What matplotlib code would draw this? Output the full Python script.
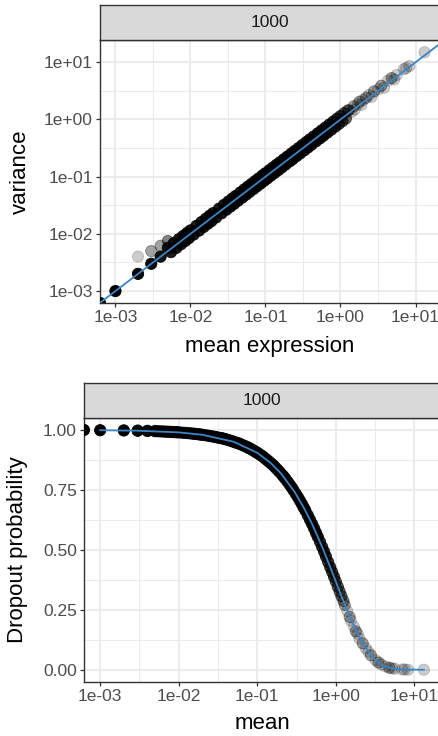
import numpy as np
import matplotlib
matplotlib.use("Agg")
import matplotlib.pyplot as plt
from matplotlib.ticker import FixedLocator, NullFormatter

plt.rcParams['font.family'] = ['Liberation Sans', 'DejaVu Sans']

# ---------------- data ----------------
facet_label = "1000"

gene_mean = [0.0, 0.001, 0.002, 0.002, 0.003, 0.003, 0.004, 0.004, 0.005,
             0.005, 0.0055, 0.006, 0.0065, 0.007, 0.0075, 0.008, 0.0085, 0.009, 0.0095,
             0.010, 0.011, 0.012, 0.013, 0.014, 0.015, 0.016, 0.017, 0.018, 0.019,
             0.020, 0.022, 0.024, 0.026, 0.028, 0.030, 0.032, 0.034, 0.036, 0.038,
             0.040, 0.043, 0.046, 0.049, 0.052, 0.055, 0.058, 0.061, 0.065, 0.069,
             0.073, 0.077, 0.081, 0.086, 0.091, 0.096, 0.100, 0.106, 0.112, 0.118,
             0.125, 0.132, 0.140, 0.148, 0.156, 0.165, 0.175, 0.185, 0.195, 0.210,
             0.220, 0.230, 0.245, 0.260, 0.275, 0.290, 0.310, 0.330, 0.350, 0.370,
             0.390, 0.410, 0.440, 0.470, 0.500, 0.530, 0.560, 0.590, 0.630, 0.670,
             0.710, 0.750, 0.800, 0.850, 0.900, 0.950, 1.000, 1.060, 1.120, 1.180,
             1.250, 1.30, 1.40, 1.50, 1.55, 1.70, 1.80, 1.90, 2.00, 2.20,
             2.40, 2.60, 2.80, 3.20, 3.50, 3.80, 4.30, 4.80, 5.20, 5.60,
             7.00, 7.50, 8.30, 13.2]

gene_variance = [0.0, 0.001, 0.002, 0.004, 0.003, 0.005, 0.004, 0.0062, 0.0075,
                 0.0057, 0.0048, 0.0069, 0.0057, 0.0081, 0.0066, 0.0092, 0.0075, 0.0104, 0.0084,
                 0.0115, 0.0097, 0.0138, 0.0114, 0.0161, 0.0132, 0.0184, 0.0150, 0.0207, 0.0167,
                 0.0230, 0.0194, 0.0276, 0.0229, 0.0322, 0.0264, 0.0368, 0.0299, 0.0414, 0.0334,
                 0.0460, 0.0378, 0.0529, 0.0431, 0.0598, 0.0484, 0.0667, 0.0537, 0.0748, 0.0607,
                 0.0840, 0.0678, 0.0932, 0.0757, 0.105, 0.0845, 0.115, 0.0933, 0.129, 0.104,
                 0.144, 0.116, 0.161, 0.130, 0.179, 0.145, 0.201, 0.163, 0.224, 0.185,
                 0.253, 0.202, 0.282, 0.229, 0.316, 0.255, 0.357, 0.290, 0.403, 0.326,
                 0.449, 0.361, 0.506, 0.414, 0.575, 0.466, 0.644, 0.519, 0.725, 0.590,
                 0.817, 0.660, 0.920, 0.748, 1.035, 0.836, 1.15, 0.933, 1.29, 1.04,
                 1.44, 1.45, 1.35, 1.70, 1.50, 1.85, 2.05, 1.80, 2.20, 2.40,
                 2.70, 2.50, 3.10, 3.40, 3.90, 3.60, 4.80, 5.30, 5.00, 6.00,
                 7.60, 7.90, 8.60, 15.0]

gene_dropout = [1.0, 0.999, 0.998, 0.999, 0.997, 0.998, 0.996, 0.997, 0.996,
                0.995, 0.9945, 0.994, 0.9935, 0.993, 0.9925, 0.992, 0.9915, 0.991, 0.9905,
                0.990, 0.989, 0.988, 0.987, 0.986, 0.985, 0.984, 0.983, 0.982, 0.981,
                0.980, 0.978, 0.976, 0.974, 0.972, 0.970, 0.968, 0.967, 0.965, 0.963,
                0.961, 0.958, 0.955, 0.952, 0.949, 0.946, 0.944, 0.941, 0.937, 0.933,
                0.930, 0.926, 0.922, 0.918, 0.913, 0.908, 0.905, 0.899, 0.894, 0.889,
                0.882, 0.876, 0.869, 0.862, 0.856, 0.848, 0.839, 0.831, 0.823, 0.811,
                0.803, 0.795, 0.783, 0.771, 0.760, 0.748, 0.733, 0.719, 0.705, 0.691,
                0.677, 0.664, 0.644, 0.625, 0.607, 0.589, 0.571, 0.554, 0.533, 0.512,
                0.492, 0.472, 0.449, 0.427, 0.407, 0.387, 0.368, 0.346, 0.326, 0.307,
                0.287, 0.270, 0.245, 0.220, 0.205, 0.180, 0.160, 0.150, 0.130, 0.110,
                0.090, 0.075, 0.060, 0.040, 0.030, 0.022, 0.014, 0.008, 0.006, 0.004,
                0.001, 0.001, 0.0, 0.0]

# number of overlapping genes at each plotted position
gene_count = [25, 30, 20, 1, 15, 2, 12, 2, 3,
              10, 10, 10, 10, 10, 10, 10, 10, 10, 10,
              10, 10, 10, 10, 10, 10, 10, 10, 10, 10,
              10, 10, 10, 10, 10, 10, 10, 10, 10, 10,
              10, 10, 10, 10, 10, 10, 10, 10, 10, 10,
              10, 10, 10, 10, 10, 10, 10, 10, 10, 10,
              10, 10, 10, 10, 10, 10, 10, 10, 10, 10,
              10, 10, 10, 10, 10, 10, 10, 10, 10, 10,
              10, 10, 10, 10, 10, 10, 10, 10, 8, 8,
              8, 8, 7, 7, 6, 6, 5, 5, 4, 4,
              3, 2, 1, 2, 1, 1, 2, 1, 1, 2,
              1, 1, 2, 1, 2, 1, 1, 2, 1, 1,
              1, 1, 1, 1]

# fitted trends
fit_var_x = [0.001, 1.0]
fit_var_y = [0.001, 1.0]
fit_drop_x = [0.001, 0.003, 0.01, 0.02, 0.05, 0.1, 0.15, 0.2, 0.3, 0.4, 0.5, 0.6,
              0.7, 0.8, 0.9, 1.0, 1.2, 1.5, 1.8, 2.2, 2.7, 3.3, 4.0, 5.0, 6.5, 8.5, 13.2]
fit_drop_y = [0.999, 0.997, 0.990, 0.980, 0.951, 0.905, 0.861, 0.819, 0.741, 0.670, 0.607, 0.549,
              0.497, 0.449, 0.407, 0.368, 0.301, 0.223, 0.165, 0.111, 0.067, 0.037, 0.018, 0.007,
              0.0015, 0.0002, 0.0]

x_ticks = [1e-3, 1e-2, 1e-1, 1e0, 1e1]
var_ticks = [1e-3, 1e-2, 1e-1, 1e0, 1e1]
drop_ticks = [0.0, 0.25, 0.5, 0.75, 1.0]

# ---------------- styling ----------------
W, H = 438, 736
fig = plt.figure(figsize=(W / 100, H / 100), dpi=100)

GRID = "#EBEBEB"
DARK = "#333333"
TICKTXT = "#4D4D4D"
BLUE = "#3A85C6"
TICK_FS = 12.5
TITLE_FS = 16
MS = 66

mean = np.array(gene_mean, float)
var = np.array(gene_variance, float)
drop = np.array(gene_dropout, float)
cnt = np.array(gene_count, float)
alpha = 1 - (1 - 0.2) ** cnt
rgba = np.zeros((len(mean), 4))
rgba[:, 3] = alpha


def log_limits(v):
    v = v[v > 0]
    lo, hi = np.log10(v.min()), np.log10(v.max())
    e = 0.05 * (hi - lo)
    return 10 ** (lo - e), 10 ** (hi + e)


def px_axes(left, top, right, bottom):
    return [left / W, (H - bottom) / H, (right - left) / W, (bottom - top) / H]


def style(ax):
    for s in ax.spines.values():
        s.set_color(DARK)
        s.set_linewidth(1.0)
    ax.set_facecolor("white")
    ax.grid(True, which="major", color=GRID, lw=1.3, zorder=0)
    ax.grid(True, which="minor", color=GRID, lw=0.7, zorder=0)
    ax.set_axisbelow(True)
    ax.tick_params(which="major", length=3.2, width=0.9, color=DARK,
                   labelsize=TICK_FS, labelcolor=TICKTXT, pad=2)
    ax.tick_params(which="minor", length=0)


def add_strip(left, top, right, bottom, text_x):
    s = fig.add_axes(px_axes(left, top, right, bottom))
    s.set_facecolor("#D9D9D9")
    s.set_xticks([])
    s.set_yticks([])
    for sp in s.spines.values():
        sp.set_color(DARK)
        sp.set_linewidth(1.0)
    s.text((text_x - left) / (right - left), 0.5, facet_label, transform=s.transAxes,
           ha="center", va="center", fontsize=TICK_FS, color="#1A1A1A")
    return s


def log_fmt(vals):
    return [f"{v:.0e}" for v in vals]


# ---------------- top panel ----------------
ax1 = fig.add_axes(px_axes(100, 40.3, 440, 303))
style(ax1)
ax1.set_xscale("log")
ax1.set_yscale("log")
xlo, xhi = log_limits(mean)
ylo, yhi = log_limits(var)
ax1.set_xlim(xlo, xhi)
ax1.set_ylim(ylo, yhi)
px = np.where(mean > 0, mean, xlo)
py = np.where(var > 0, var, ylo)
ax1.scatter(px, py, s=MS, c=rgba, edgecolors=rgba, linewidths=0.6, zorder=3)
ax1.axline((fit_var_x[0], fit_var_y[0]), (fit_var_x[1], fit_var_y[1]),
           color=BLUE, lw=1.3, zorder=4)
ax1.xaxis.set_major_locator(FixedLocator(x_ticks))
ax1.set_xticklabels(log_fmt(x_ticks))
ax1.yaxis.set_major_locator(FixedLocator(var_ticks))
ax1.set_yticklabels(log_fmt(var_ticks))
ax1.xaxis.set_minor_locator(FixedLocator([10 ** (k + 0.5) for k in range(-4, 2)]))
ax1.yaxis.set_minor_locator(FixedLocator([10 ** (k + 0.5) for k in range(-4, 2)]))
ax1.xaxis.set_minor_formatter(NullFormatter())
ax1.yaxis.set_minor_formatter(NullFormatter())
ax1.set_xlabel("mean expression", fontsize=TITLE_FS, color="black", va="center")
ax1.xaxis.set_label_coords((270 - 100) / 340, -0.165)
ax1.set_ylabel("variance", fontsize=TITLE_FS, color="black", va="center")
ax1.yaxis.set_label_coords((20 - 100) / 340, 0.5)

add_strip(100, 5, 440, 40.3, 270)

# ---------------- bottom panel ----------------
ax2 = fig.add_axes(px_axes(84, 418, 440, 681.7))
style(ax2)
ax2.set_xscale("log")
ax2.set_xlim(xlo, xhi)
ax2.set_ylim(-0.05, 1.05)
ax2.scatter(px, drop, s=MS, c=rgba, edgecolors=rgba, linewidths=0.6, zorder=3)
ax2.plot(fit_drop_x, fit_drop_y, color=BLUE, lw=1.3, zorder=4)
ax2.xaxis.set_major_locator(FixedLocator(x_ticks))
ax2.set_xticklabels(log_fmt(x_ticks))
ax2.yaxis.set_major_locator(FixedLocator(drop_ticks))
ax2.set_yticklabels([f"{v:.2f}" for v in drop_ticks])
ax2.xaxis.set_minor_locator(FixedLocator([10 ** (k + 0.5) for k in range(-4, 2)]))
ax2.yaxis.set_minor_locator(FixedLocator([0.125, 0.375, 0.625, 0.875]))
ax2.xaxis.set_minor_formatter(NullFormatter())
ax2.yaxis.set_minor_formatter(NullFormatter())
ax2.set_xlabel("mean", fontsize=TITLE_FS, color="black", va="center")
ax2.xaxis.set_label_coords((262 - 84) / 356, -0.160)
ax2.set_ylabel("Dropout probability", fontsize=TITLE_FS, color="black", va="center")
ax2.yaxis.set_label_coords((18 - 84) / 356, 0.5)

add_strip(84, 383, 440, 418, 262)

fig.savefig("out.png", dpi=100, facecolor="white")
